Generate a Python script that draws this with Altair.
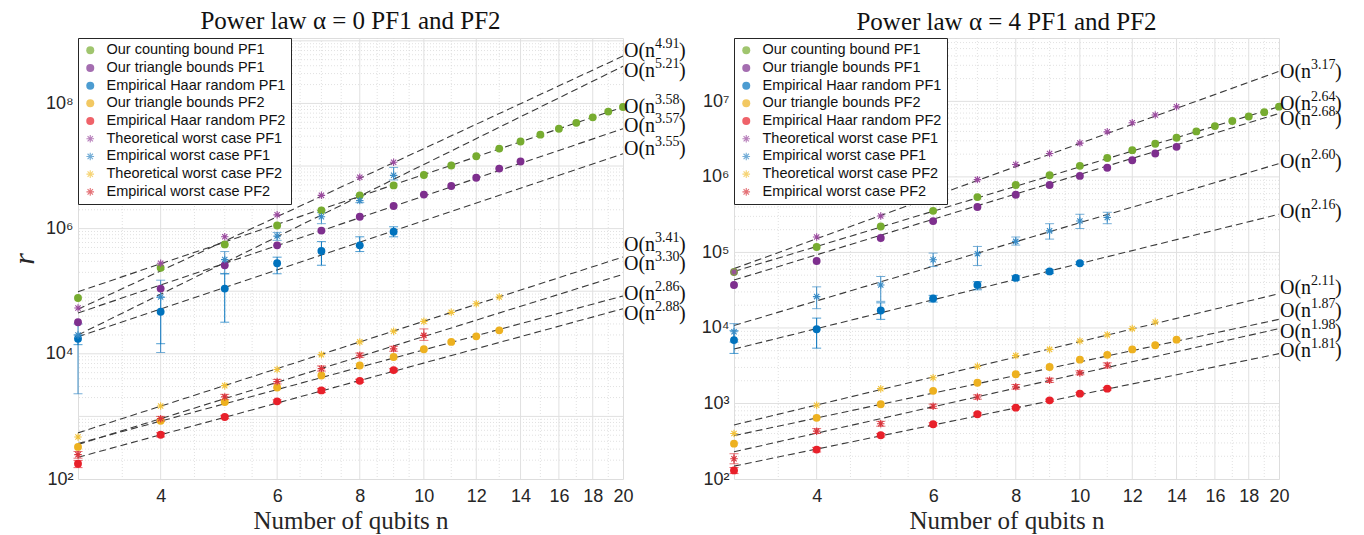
import altair as alt
import pandas as pd

SANS = "Liberation Sans, Arial, DejaVu Sans, sans-serif"
SERIF = "Liberation Serif, Times New Roman, DejaVu Serif, serif"

# ---------------- series / style tables ----------------
SERIES = ["Our counting bound PF1", "Our triangle bounds PF1", "Empirical Haar random PF1",
          "Our triangle bounds PF2", "Empirical Haar random PF2", "Theoretical worst case PF1",
          "Empirical worst case PF1", "Theoretical worst case PF2", "Empirical worst case PF2"]
COLORS = ["#77AC30", "#7E2F8E", "#0072BD", "#EDB120", "#E8202A",
          "#9A4A9E", "#3A8CC6", "#F2C23A", "#D9343C"]
ASTERISK = ("M-0.95,-0.14L0.95,-0.14L0.95,0.14L-0.95,0.14Z"
            "M-0.14,-0.95L0.14,-0.95L0.14,0.95L-0.14,0.95Z"
            "M-0.57,-0.77L0.77,0.57L0.57,0.77L-0.77,-0.57Z"
            "M-0.77,0.57L0.57,-0.77L0.77,-0.57L-0.57,0.77Z")
SHAPES = ["circle"] * 5 + [ASTERISK] * 4

X_TICKS = [4, 6, 8, 10, 12, 14, 16, 18, 20]
X_MINOR = [3.5, 4.5, 5, 5.5, 6.5, 7, 7.5, 8.5, 9, 9.5, 11, 13, 15, 17, 19]

# ---------------- panel 1: alpha = 0 (all series start at n = 3) ----------------
A0_COUNT = [7.8e4, 2.37e5, 5.6e5, 1.12e6, 1.96e6, 3.4e6, 4.9e6, 7.2e6, 1.02e7, 1.43e7,
            1.9e7, 2.47e7, 3.17e7, 3.94e7, 4.9e7, 6.0e7, 7.4e7, 8.75e7]
A0_TRI1 = [3.2e4, 1.1e5, 2.6e5, 5.4e5, 9.3e5, 1.55e6, 2.3e6, 3.5e6, 4.8e6, 6.5e6, 9.1e6, 1.18e7]
A0_HAAR1 = [1.74e4, 4.7e4, 1.1e5, 2.8e5, 4.4e5, 5.4e5, 8.9e5]
A0_HAAR1_LO = [1.4e4, 1.45e4, 3.2e4, 1.9e5, 2.6e5, 4.3e5, 7.4e5]
A0_HAAR1_HI = [2.0e4, 8.0e4, 1.9e5, 3.5e5, 6.2e5, 7.4e5, 1.07e6]
A0_TRI2 = [326, 850, 1.7e3, 2.9e3, 4.5e3, 6.5e3, 8.9e3, 1.18e4, 1.55e4, 1.9e4, 2.37e4]
A0_HAAR2 = [175, 510, 980, 1.74e3, 2.6e3, 3.7e3, 5.5e3]
A0_HAAR2_LO = [152, 470, 920, 1.65e3, 2.4e3, 3.5e3, 5.2e3]
A0_HAAR2_HI = [198, 550, 1.04e3, 1.84e3, 2.8e3, 3.9e3, 5.8e3]
A0_THEO1 = [5.4e4, 2.8e5, 7.4e5, 1.66e6, 3.4e6, 6.6e6, 1.15e7]
A0_EMP1 = [2.0e4, 8.1e4, 3.2e5, 7.6e5, 1.55e6, 2.8e6, 7.1e6]
A0_EMP1_LO = [2.3e3, 1.05e4, 1.9e5, 6.5e5, 1.2e6, 2.6e6, 6.0e6]
A0_EMP1_HI = [3.0e4, 1.5e5, 4.3e5, 8.7e5, 1.8e6, 3.4e6, 9.5e6]
A0_THEO2 = [470, 1.47e3, 3.1e3, 5.6e3, 9.7e3, 1.55e4, 2.3e4, 3.3e4, 4.6e4, 6.3e4, 8.1e4]
A0_EMP2 = [245, 920, 2.05e3, 3.6e3, 5.8e3, 9.5e3, 1.2e4, 1.97e4]
A0_EMP2_LO = [215, 830, 1.85e3, 3.3e3, 5.3e3, 8.8e3, 1.1e4, 1.64e4]
A0_EMP2_HI = [275, 1.0e3, 2.25e3, 3.9e3, 6.4e3, 1.03e4, 1.32e4, 2.5e4]
A0_FIT_EXP = ["4.91", "5.21", "3.58", "3.57", "3.55", "3.41", "3.30", "2.86", "2.88"]
A0_FIT_START = [5.15e4, 2.0e4, 9.8e4, 4.5e4, 1.87e4, 546, 356, 369, 222]   # value at n = 3
A0_FIT_END = [5.71e8, 3.92e8, 8.75e7, 3.94e7, 1.57e7, 3.52e5, 1.86e5, 8.4e4, 5.25e4]  # at n = 20
A0_LABEL_Y = [6.8e8, 3.3e8, 8.75e7, 4.3e7, 1.89e7, 5.4e5, 2.75e5, 9.1e4, 4.37e4]

# ---------------- panel 2: alpha = 4 ----------------
A4_COUNT = [5.5e4, 1.18e5, 2.2e5, 3.55e5, 5.4e5, 7.8e5, 1.05e6, 1.4e6, 1.78e6, 2.26e6,
            2.75e6, 3.3e6, 4.0e6, 4.7e6, 5.5e6, 6.3e6, 7.2e6, 8.5e6]
A4_TRI1 = [3.7e4, 7.7e4, 1.55e5, 2.6e5, 4.0e5, 5.8e5, 7.8e5, 1.03e6, 1.32e6, 1.66e6, 2.04e6, 2.5e6]
A4_HAAR1 = [6.9e3, 9.6e3, 1.7e4, 2.45e4, 3.7e4, 4.6e4, 5.6e4, 7.2e4]
A4_HAAR1_LO = [4.6e3, 5.4e3, 1.3e4, 2.2e4, 3.2e4, 4.3e4, 5.3e4, 6.9e4]
A4_HAAR1_HI = [9.2e3, 1.35e4, 2.15e4, 2.7e4, 4.1e4, 4.9e4, 5.9e4, 7.5e4]
A4_TRI2 = [294, 645, 975, 1.47e3, 1.88e3, 2.44e3, 3.04e3, 3.8e3, 4.4e3, 5.2e3, 5.9e3, 7.0e3]
A4_HAAR2 = [130, 245, 380, 531, 720, 880, 1.1e3, 1.35e3, 1.57e3]
A4_HAAR2_LO = [118, 228, 360, 505, 690, 850, 1.06e3, 1.3e3, 1.51e3]
A4_HAAR2_HI = [142, 262, 400, 557, 750, 910, 1.14e3, 1.4e3, 1.63e3]
A4_THEO1 = [5.5e4, 1.6e5, 3.04e5, 5.6e5, 9.2e5, 1.46e6, 2.04e6, 2.8e6, 3.95e6, 5.2e6, 6.6e6, 8.5e6]
A4_EMP1 = [8.9e3, 2.6e4, 3.7e4, 8.0e4, 9.6e4, 1.4e5, 1.93e5, 2.6e5, 2.9e5]
A4_EMP1_LO = [6.5e3, 1.8e4, 2.25e4, 6.5e4, 6.7e4, 1.25e5, 1.5e5, 2.07e5, 2.4e5]
A4_EMP1_HI = [1.14e4, 3.5e4, 4.8e4, 9.8e4, 1.2e5, 1.6e5, 2.4e5, 3.2e5, 3.4e5]
A4_THEO2 = [400, 946, 1.57e3, 2.19e3, 3.1e3, 4.3e3, 5.2e3, 6.7e3, 8.1e3, 9.8e3, 1.2e4]
A4_EMP2 = [185, 430, 540, 918, 1.22e3, 1.66e3, 2.03e3, 2.54e3, 3.2e3]
A4_EMP2_LO = [159, 400, 500, 860, 1.14e3, 1.55e3, 1.9e3, 2.4e3, 2.95e3]
A4_EMP2_HI = [216, 465, 580, 980, 1.3e3, 1.78e3, 2.16e3, 2.7e3, 3.45e3]
A4_FIT_EXP = ["3.17", "2.64", "2.68", "2.60", "2.16", "2.11", "1.87", "1.98", "1.81"]
A4_FIT_START = [6.1e4, 5.6e4, 4.3e4, 1.08e4, 5.25e3, 520, 375, 229, 148]
A4_FIT_END = [2.5e7, 8.5e6, 6.9e6, 1.5e6, 3.2e5, 2.84e4, 1.3e4, 9.8e3, 4.57e3]
A4_LABEL_Y = [2.45e7, 9.2e6, 5.9e6, 1.58e6, 3.44e5, 3.39e4, 1.66e4, 8.9e3, 4.9e3]

SUP = {2: "²", 3: "³", 4: "⁴", 5: "⁵", 6: "⁶", 7: "⁷", 8: "⁸", 9: "⁹"}


def series_rows(values, name):
    return [{"n": 3 + i, "r": v, "series": name} for i, v in enumerate(values)]


def err_rows(lo, hi, color):
    return [{"n": 3 + i, "lo": a, "hi": b, "c": color} for i, (a, b) in enumerate(zip(lo, hi))]


def panel(title, pts, errs, fit_exp, fit_start, fit_end, label_y, ydom, ylab_vals, ytitle):
    pts_df = pd.DataFrame(pts)
    err_df = pd.DataFrame(errs)
    fit_df = pd.DataFrame(
        [{"fit": i, "n": 3, "r": s} for i, s in enumerate(fit_start)]
        + [{"fit": i, "n": 20, "r": e} for i, e in enumerate(fit_end)])
    lab_df = pd.DataFrame({"n": [20] * len(label_y), "y": label_y, "e": fit_exp})

    kmin, kmax = 2, 9
    ymajor = [10 ** k for k in range(kmin, kmax + 1) if ydom[0] <= 10 ** k <= ydom[1]]
    yminor = [m * 10 ** k for k in range(kmin, kmax + 1) for m in range(2, 10)
              if ydom[0] < m * 10 ** k < ydom[1]]

    xs = alt.Scale(type="log", domain=[3, 20], nice=False, zero=False)
    ys = alt.Scale(type="log", domain=ydom, nice=False, zero=False)
    lab_expr = " : ".join(f"datum.value == {10 ** k} ? '10{SUP[k]}'"
                          for k in range(2, 10)) + " : ''"
    xaxis = alt.Axis(values=X_TICKS, format="d", grid=False, ticks=False, domain=False,
                     labelFlush=False, labelOverlap=False,
                     labelFont=SANS, labelFontSize=18, labelColor="#262626", labelPadding=8,
                     title="Number of qubits n", titleFont=SERIF, titleFontSize=25,
                     titleFontWeight="normal", titleColor="#262626", titlePadding=3)
    yaxis = alt.Axis(values=ylab_vals, labelExpr=lab_expr, grid=False, ticks=False, domain=False,
                     labelFlush=False,
                     labelFont=SANS, labelFontSize=18, labelColor="#262626", labelPadding=5,
                     title=ytitle if ytitle else None, titleFont=SERIF, titleFontSize=30,
                     titleFontStyle="italic", titleFontWeight="normal", titleColor="#262626",
                     titlePadding=6)

    def X(f):
        return alt.X(f, type="quantitative", scale=xs, axis=xaxis)

    def Y(f):
        return alt.Y(f, type="quantitative", scale=ys, axis=yaxis)

    gx_minor = alt.Chart(pd.DataFrame({"v": X_MINOR})).mark_rule(
        color="#d9d9d9", strokeWidth=0.8, strokeDash=[1, 2]).encode(x=X("v"))
    gy_minor = alt.Chart(pd.DataFrame({"v": yminor})).mark_rule(
        color="#d9d9d9", strokeWidth=0.8, strokeDash=[1, 2]).encode(y=Y("v"))
    gx_major = alt.Chart(pd.DataFrame({"v": X_TICKS[:-1]})).mark_rule(
        color="#e0e0e0", strokeWidth=1).encode(x=X("v"))
    gy_major = alt.Chart(pd.DataFrame({"v": ymajor[1:]})).mark_rule(
        color="#e0e0e0", strokeWidth=1).encode(y=Y("v"))

    fits = alt.Chart(fit_df).mark_line(color="#3a3a3a", strokeWidth=1.1,
                                        strokeDash=[7, 4]).encode(
        x=X("n"), y=Y("r"), detail="fit:N")

    ebar = alt.Chart(err_df).mark_rule(strokeWidth=1).encode(
        x=X("n"), y=Y("lo"), y2="hi", color=alt.Color("c:N", scale=None))
    cap_lo = alt.Chart(err_df).mark_tick(orient="horizontal", size=9, thickness=1).encode(
        x=X("n"), y=Y("lo"), color=alt.Color("c:N", scale=None))
    cap_hi = alt.Chart(err_df).mark_tick(orient="horizontal", size=9, thickness=1).encode(
        x=X("n"), y=Y("hi"), color=alt.Color("c:N", scale=None))

    legend = alt.Legend(title=None, orient="top-left", offset=0, fillColor="white",
                        strokeColor="#262626", padding=5, labelFont=SANS, labelFontSize=14.5,
                        labelColor="#111111", symbolSize=64, rowPadding=2.7, labelLimit=400,
                        symbolStrokeWidth=0, labelOffset=9, cornerRadius=0)
    points = alt.Chart(pts_df).mark_point(filled=True, size=62, opacity=1).encode(
        x=X("n"), y=Y("r"),
        color=alt.Color("series:N", scale=alt.Scale(domain=SERIES, range=COLORS), legend=legend),
        shape=alt.Shape("series:N", scale=alt.Scale(domain=SERIES, range=SHAPES), legend=legend))

    base_txt = alt.Chart(lab_df).mark_text(align="left", baseline="middle", dx=1, font=SERIF,
                                           fontSize=20, color="#111111").encode(
        x=X("n"), y=Y("y"), text=alt.value("O(n"))
    exp_txt = alt.Chart(lab_df).mark_text(align="left", baseline="middle", dx=32, dy=-7,
                                          font=SERIF, fontSize=14, color="#111111").encode(
        x=X("n"), y=Y("y"), text="e:N")
    par_txt = alt.Chart(lab_df).mark_text(align="left", baseline="middle", dx=56, font=SERIF,
                                          fontSize=20, color="#111111").encode(
        x=X("n"), y=Y("y"), text=alt.value(")"))

    return alt.layer(gx_minor, gy_minor, gx_major, gy_major, fits, ebar, cap_lo, cap_hi,
                     points, base_txt, exp_txt, par_txt).properties(
        width=545, height=441,
        title=alt.TitleParams(title, font=SERIF, fontSize=25, fontWeight="normal",
                              color="#111111", anchor="middle", offset=3))


names = SERIES
p0 = (series_rows(A0_COUNT, names[0]) + series_rows(A0_TRI1, names[1]) +
      series_rows(A0_HAAR1, names[2]) + series_rows(A0_TRI2, names[3]) +
      series_rows(A0_HAAR2, names[4]) + series_rows(A0_THEO1, names[5]) +
      series_rows(A0_EMP1, names[6]) + series_rows(A0_THEO2, names[7]) +
      series_rows(A0_EMP2, names[8]))
e0 = (err_rows(A0_HAAR1_LO, A0_HAAR1_HI, COLORS[2]) + err_rows(A0_HAAR2_LO, A0_HAAR2_HI, COLORS[4]) +
      err_rows(A0_EMP1_LO, A0_EMP1_HI, COLORS[6]) + err_rows(A0_EMP2_LO, A0_EMP2_HI, COLORS[8]))
p4 = (series_rows(A4_COUNT, names[0]) + series_rows(A4_TRI1, names[1]) +
      series_rows(A4_HAAR1, names[2]) + series_rows(A4_TRI2, names[3]) +
      series_rows(A4_HAAR2, names[4]) + series_rows(A4_THEO1, names[5]) +
      series_rows(A4_EMP1, names[6]) + series_rows(A4_THEO2, names[7]) +
      series_rows(A4_EMP2, names[8]))
e4 = (err_rows(A4_HAAR1_LO, A4_HAAR1_HI, COLORS[2]) + err_rows(A4_HAAR2_LO, A4_HAAR2_HI, COLORS[4]) +
      err_rows(A4_EMP1_LO, A4_EMP1_HI, COLORS[6]) + err_rows(A4_EMP2_LO, A4_EMP2_HI, COLORS[8]))

left = panel("Power law α = 0 PF1 and PF2", p0, e0, A0_FIT_EXP, A0_FIT_START, A0_FIT_END,
             A0_LABEL_Y, [100, 1.11e9], [1e2, 1e4, 1e6, 1e8], "r")
right = panel("Power law α = 4 PF1 and PF2", p4, e4, A4_FIT_EXP, A4_FIT_START, A4_FIT_END,
              A4_LABEL_Y, [100, 6.9e7], [1e2, 1e3, 1e4, 1e5, 1e6, 1e7], None)

chart = alt.hconcat(left, right, spacing=111, bounds="flush").resolve_scale(
    x="independent", y="independent", color="independent", shape="independent"
).resolve_legend(color="independent", shape="independent").properties(
    padding={"left": 0, "top": 0, "right": 2, "bottom": 0}
).configure_view(stroke="#262626", strokeWidth=1).configure(background="white")

chart.save("out.html", embed_options={"renderer": "svg", "actions": False})
